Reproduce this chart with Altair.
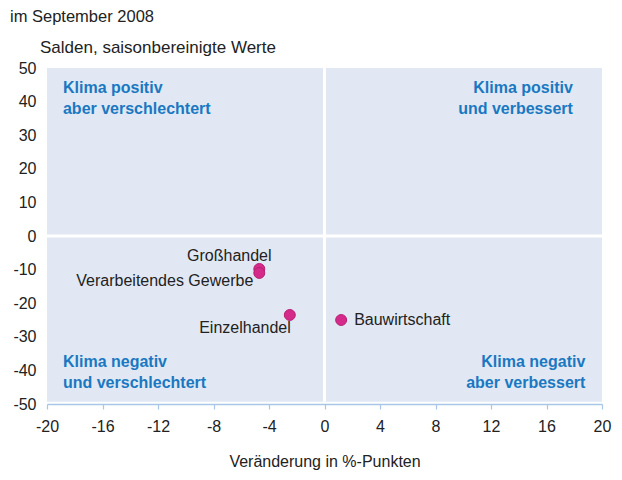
import altair as alt
import pandas as pd

# data
sectors = ["Großhandel", "Verarbeitendes Gewerbe", "Einzelhandel", "Bauwirtschaft"]
change = [-4.7, -4.7, -2.5, 1.2]
balance = [-9.8, -11.0, -23.5, -25.0]

quad_line1 = ["Klima positiv", "Klima positiv", "Klima negativ", "Klima negativ"]
quad_line2 = ["aber verschlechtert", "und verbessert", "und verschlechtert", "aber verbessert"]
quad_x = [-18.85, 17.9, -18.85, 18.8]
quad_y = [41.0, 41.0, -40.6, -40.6]
quad_align = ["left", "right", "left", "right"]

x_ticks = [-20, -16, -12, -8, -4, 0, 4, 8, 12, 16, 20]
y_ticks = [50, 40, 30, 20, 10, 0, -10, -20, -30, -40, -50]

df = pd.DataFrame({"sector": sectors, "x": change, "y": balance})
dq = pd.DataFrame({"l1": quad_line1, "l2": quad_line2, "x": quad_x, "y": quad_y, "align": quad_align})

FONT = "Liberation Sans"
BLUE = "#1A78C2"
FILL = "#E1E8F3"
FS = 16

xs = alt.Scale(domain=[-20, 20], nice=False, zero=False)
ys = alt.Scale(domain=[-50, 50], nice=False, zero=False)

xaxis = alt.Axis(
    values=x_ticks, title="Veränderung in %-Punkten", titleFont=FONT, titleFontSize=FS,
    titleFontWeight="normal", titleColor="#222", titlePadding=19,
    labelFont=FONT, labelFontSize=FS, labelColor="#222", labelPadding=9,
    labelExpr="datum.value + ''", labelOverlap=False,
    domainColor="#A9C6E6", domainWidth=1.5, tickColor="#A9C6E6", tickSize=5, tickWidth=1.2,
    grid=False, labelFlush=False)
yaxis = alt.Axis(
    values=y_ticks, title=None, labelFont=FONT, labelFontSize=FS, labelColor="#222",
    labelExpr="datum.value + ''", labelOverlap=False,
    labelPadding=11, domain=False, ticks=False, grid=False)


def X(f="x:Q"):
    return alt.X(f, scale=xs, axis=xaxis)


def Y(f="y:Q"):
    return alt.Y(f, scale=ys, axis=yaxis)


base = alt.Chart(df)

# background quadrants
bg = alt.Chart(pd.DataFrame({"x": [-20], "x2": [20], "y": [-49.3], "y2": [50]})).mark_rect(
    color=FILL).encode(x=X(), x2="x2:Q", y=Y(), y2="y2:Q")

vline = alt.Chart(pd.DataFrame({"x": [0], "y": [-49.3], "y2": [50]})).mark_rule(
    color="white", strokeWidth=3).encode(x=X(), y=Y(), y2="y2:Q")
hline = alt.Chart(pd.DataFrame({"y": [0], "x": [-20], "x2": [20]})).mark_rule(
    color="white", strokeWidth=3).encode(y=Y(), x=X(), x2="x2:Q")

quad_layers = []
for al in ["left", "right"]:
    sub = alt.Chart(dq).transform_filter(alt.datum.align == al)
    quad_layers.append(sub.mark_text(align=al, baseline="middle", font=FONT, fontSize=FS,
                                     fontWeight="bold", color=BLUE, dy=-10.5).encode(
        x=X(), y=Y(), text="l1:N"))
    quad_layers.append(sub.mark_text(align=al, baseline="middle", font=FONT, fontSize=FS,
                                     fontWeight="bold", color=BLUE, dy=10.5).encode(
        x=X(), y=Y(), text="l2:N"))

pts = base.mark_circle(size=120, color="#D42A8A", stroke="#B81F73", strokeWidth=1, opacity=1).encode(
    x=X(), y=Y())

label_specs = {
    "Großhandel": dict(align="center", dx=-30, dy=-13),
    "Verarbeitendes Gewerbe": dict(align="right", dx=-6, dy=8),
    "Einzelhandel": dict(align="right", dx=1, dy=13),
    "Bauwirtschaft": dict(align="left", dx=13, dy=0),
}
lbls = []
for name, spec in label_specs.items():
    lbls.append(base.transform_filter(alt.datum.sector == name).mark_text(
        font=FONT, fontSize=FS, color="#222", baseline="middle", **spec).encode(
        x=X(), y=Y(), text="sector:N"))

title1 = alt.Chart(pd.DataFrame({"t": ["im September 2008"]})).mark_text(
    align="left", baseline="middle", font=FONT, fontSize=16.5, color="#222").encode(
    x=alt.value(-37), y=alt.value(-51), text="t:N")
title2 = alt.Chart(pd.DataFrame({"t": ["Salden, saisonbereinigte Werte"]})).mark_text(
    align="left", baseline="middle", font=FONT, fontSize=17, color="#222").encode(
    x=alt.value(-7), y=alt.value(-20), text="t:N")

chart = alt.layer(bg, vline, hline, *quad_layers, pts, *lbls, title1, title2).properties(
    width=555, height=336,
    autosize=alt.AutoSizeParams(type="none"),
    padding={"left": 39, "top": 60, "right": 12, "bottom": 68},
).configure_view(stroke=None)

chart.save("out.html", embed_options={"renderer": "svg", "actions": False})
